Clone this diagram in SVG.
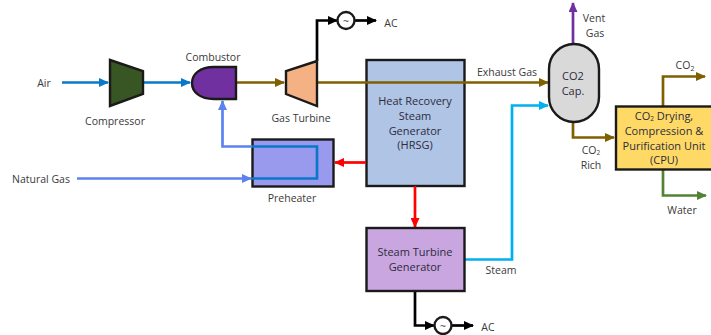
<svg xmlns="http://www.w3.org/2000/svg" width="711" height="335" viewBox="0 0 711 335">
<style>
text{font-family:"Open Sans","Liberation Sans",sans-serif;font-size:10.5px;fill:#3a3a3a;text-anchor:middle}
.t{font-size:11px;fill:#2c2c3c}
.n{stroke:#1a1a1a;stroke-width:2.400}
.c{fill:none;stroke-width:2.700}
.k{stroke:#000}.b{stroke:#7f6000}.a{stroke:#0a78c8}.l{stroke:#5b82f0}.r{stroke:#ff0000}.s{stroke:#00b0f0}.g{stroke:#548235}.p{stroke:#7030a0}
</style>
<defs>
<marker id="ak" markerUnits="userSpaceOnUse" markerWidth="10" markerHeight="9" refX="9" refY="4.500" orient="auto"><path d="M0 0L10 4.500L0 9z" fill="#000"/></marker>
<marker id="ab" markerUnits="userSpaceOnUse" markerWidth="10" markerHeight="9" refX="9" refY="4.500" orient="auto"><path d="M0 0L10 4.500L0 9z" fill="#7f6000"/></marker>
<marker id="aa" markerUnits="userSpaceOnUse" markerWidth="10" markerHeight="9" refX="9" refY="4.500" orient="auto"><path d="M0 0L10 4.500L0 9z" fill="#0a78c8"/></marker>
<marker id="al" markerUnits="userSpaceOnUse" markerWidth="10" markerHeight="9" refX="9" refY="4.500" orient="auto"><path d="M0 0L10 4.500L0 9z" fill="#5b82f0"/></marker>
<marker id="ar" markerUnits="userSpaceOnUse" markerWidth="10" markerHeight="9" refX="9" refY="4.500" orient="auto"><path d="M0 0L10 4.500L0 9z" fill="#ff0000"/></marker>
<marker id="as" markerUnits="userSpaceOnUse" markerWidth="10" markerHeight="9" refX="9" refY="4.500" orient="auto"><path d="M0 0L10 4.500L0 9z" fill="#00b0f0"/></marker>
<marker id="ag" markerUnits="userSpaceOnUse" markerWidth="10" markerHeight="9" refX="9" refY="4.500" orient="auto"><path d="M0 0L10 4.500L0 9z" fill="#548235"/></marker>
<marker id="ap" markerUnits="userSpaceOnUse" markerWidth="10" markerHeight="9" refX="9" refY="4.500" orient="auto"><path d="M0 0L10 4.500L0 9z" fill="#7030a0"/></marker>
</defs>
<rect width="711" height="335" fill="#fff"/>
<g id="preheater"><rect class="n" x="252.500" y="139.500" width="81" height="47" fill="#9999ee"/><text x="292" y="202">Preheater</text></g>
<g id="hrsg"><rect class="n" x="366.500" y="60" width="98" height="126" fill="#b0c4e6"/><text class="t" x="415" y="105">Heat Recovery</text><text class="t" x="415" y="120">Steam</text><text class="t" x="415" y="135">Generator</text><text class="t" x="415" y="149">(HRSG)</text></g>
<g id="connectors">
<path class="c a" d="M62 82.500H108" marker-end="url(#aa)"/>
<path class="c a" d="M143 82.500H190" marker-end="url(#aa)"/>
<path class="c b" d="M236 82.500H284" marker-end="url(#ab)"/>
<path class="c b" d="M318 82.500H548" marker-end="url(#ab)"/>
<path class="c k" d="M317 61V20.500H337" marker-end="url(#ak)"/>
<path class="c k" d="M355 20.500H376" marker-end="url(#ak)"/>
<path class="c l" d="M252 146.500H222.500V101" marker-end="url(#al)"/>
<path class="c l" d="M77 178.500H251" marker-end="url(#al)"/>
<path class="c a" d="M252 146.500H317V178.500H252" stroke-width="3"/>
<path class="c r" d="M366 162.500H335" marker-end="url(#ar)"/>
<path class="c r" d="M415 186V227" marker-end="url(#ar)"/>
<path class="c s" d="M464 259.500H512V105.500H548" marker-end="url(#as)"/>
<path class="c k" d="M415 291V325.500H434" marker-end="url(#ak)"/>
<path class="c k" d="M452 325.500H473" marker-end="url(#ak)"/>
<path class="c p" d="M573 44V3" marker-end="url(#ap)"/>
<path class="c b" d="M573 122V137.500H614" marker-end="url(#ab)"/>
<path class="c b" d="M663 106V76.500H705" marker-end="url(#ab)"/>
<path class="c g" d="M663 170V195.500H706" marker-end="url(#ag)"/>
</g>
<g id="air"><text x="44" y="87">Air</text></g>
<g id="natural-gas"><text x="41" y="183">Natural Gas</text></g>
<g id="compressor"><path class="n" d="M110 60L143 71V94L110 106z" fill="#375623"/><text x="115" y="125">Compressor</text></g>
<g id="combustor"><path class="n" d="M236 67H214C200 67 192 74 192 83C192 92 200 99 214 99H236z" fill="#7030a0"/><text x="213" y="61">Combustor</text></g>
<g id="gas-turbine"><path class="n" d="M317 61V106L286 94V71z" fill="#f4b183"/><text x="301" y="122">Gas Turbine</text></g>
<g id="generator-1"><circle class="n" cx="346" cy="20.500" r="8.500" fill="#fff" stroke-width="2.800"/><text x="346" y="24.500">~</text></g>
<text x="391" y="27">AC</text>
<g id="co2-capture"><rect class="n" x="549" y="44" width="50" height="78" rx="25" fill="#d9d9d9"/><text class="t" x="573" y="80">CO2</text><text class="t" x="573" y="95">Cap.</text></g>
<g id="cpu"><rect class="n" x="616" y="106.500" width="100" height="63" fill="#ffd966"/>
<text class="t" x="664" y="120">CO<tspan font-size="6.500" dy="1">2</tspan><tspan dy="-1"> Drying,</tspan></text><text class="t" x="664" y="135">Compression &amp;</text><text class="t" x="664" y="150">Purification Unit</text><text class="t" x="664" y="164">(CPU)</text></g>
<g id="steam-turbine"><rect class="n" x="366.500" y="228" width="98" height="63" fill="#c9a6e0"/><text class="t" x="415" y="256">Steam Turbine</text><text class="t" x="415" y="271">Generator</text></g>
<g id="generator-2"><circle class="n" cx="443" cy="325.500" r="8.500" fill="#fff" stroke-width="2.800"/><text x="443" y="329.500">~</text></g>
<text x="488" y="331">AC</text>
<text x="594" y="22">Vent</text><text x="595" y="37">Gas</text>
<text x="507" y="76">Exhaust Gas</text>
<text x="591" y="154">CO<tspan font-size="6.500" dy="1">2</tspan></text><text x="591" y="169">Rich</text>
<text x="685" y="69">CO<tspan font-size="7" dy="2">2</tspan></text>
<text x="682" y="214">Water</text>
<text x="501" y="274">Steam</text>
</svg>
